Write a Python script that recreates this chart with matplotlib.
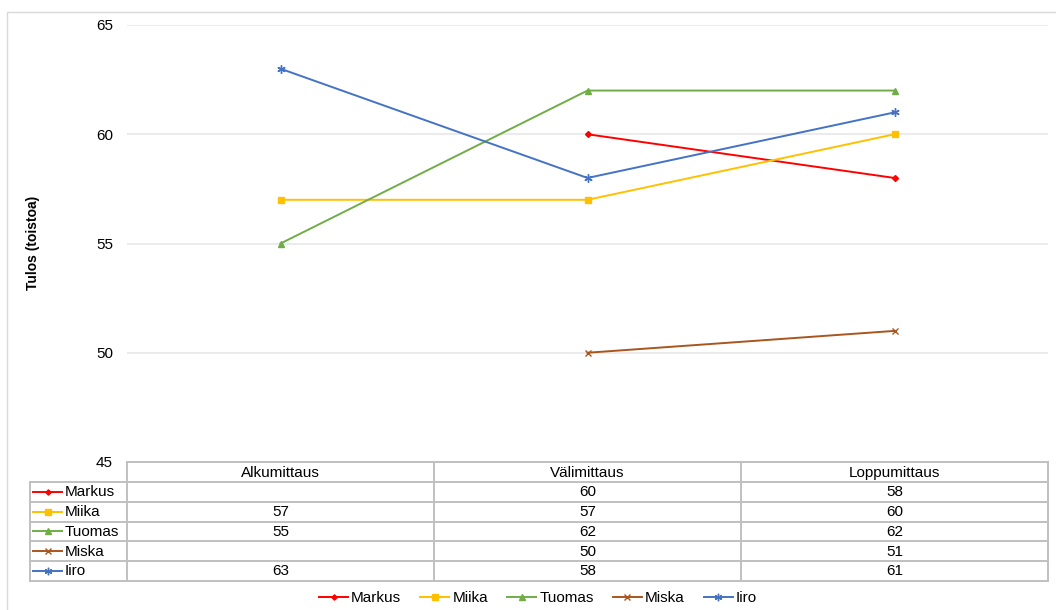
import matplotlib
matplotlib.use("Agg")
import matplotlib.pyplot as plt
from matplotlib.lines import Line2D
from matplotlib.patches import Rectangle
import numpy as np

plt.rcParams['font.family'] = ['Liberation Sans', 'DejaVu Sans']

# Measurement rounds and results (repetitions); None = not measured
rounds = ["Alkumittaus", "Välimittaus", "Loppumittaus"]
names = ["Markus", "Miika", "Tuomas", "Miska", "Iiro"]
markus = [None, 60, 58]
miika = [57, 57, 60]
tuomas = [55, 62, 62]
miska = [None, 50, 51]
iiro = [63, 58, 61]
series = [markus, miika, tuomas, miska, iiro]

colors = ["#FF0000", "#FFC000", "#70AD47", "#A9561E", "#4472C4"]
markers = ["D", "s", "^", "x", (6, 2, 0)]
msizes = [3.0, 4.5, 4.5, 5, 6]

yticks = [45, 50, 55, 60, 65]

W, H = 1056, 610
fig = plt.figure(figsize=(W / 100, H / 100), dpi=100)


def box(x0, y0, x1, y1):
    return [x0 / W, 1 - y1 / H, (x1 - x0) / W, (y1 - y0) / H]


# light chart frame
fig.patches.append(Rectangle((7 / W, -0.1), 1.2, 1.1 - 12 / H,
                             transform=fig.transFigure, fill=False,
                             edgecolor="#d9d9d9", lw=1.0))

FS = 11

# plot area
x_left, x_right = 127, 1048
ax = fig.add_axes(box(x_left, 25, x_right, 462))
x = np.arange(len(rounds))
for vals, c, m, ms, nm in zip(series, colors, markers, msizes, names):
    xs = [xi for xi, v in zip(x, vals) if v is not None]
    ys = [v for v in vals if v is not None]
    ax.plot(xs, ys, color=c, lw=1.4, marker=m, ms=ms, mew=1.0,
            markerfacecolor=c, markeredgecolor=c, label=nm, zorder=3)

ax.set_xlim(-0.5, 2.5)
ax.set_ylim(45, 65)
ax.set_yticks(yticks)
ax.set_yticklabels([str(t) for t in yticks], fontsize=FS)
ax.tick_params(axis="y", length=0, pad=10)
ax.set_xticks([])
for s in ax.spines.values():
    s.set_visible(False)
ax.grid(axis="y", color="#e8e8e8", lw=1.2)
ax.set_axisbelow(True)
fig.text(33 / W, 1 - 243 / H, "Tulos (toistoa)", rotation=90, fontsize=10,
         fontweight="bold", ha="center", va="center")

# data table under the plot
t_left, t_top, t_bottom = 30, 462, 581
upx = 3 / (x_right - x_left)
tx0 = -0.5 - (x_left - t_left) * upx
tax = fig.add_axes(box(t_left, t_top, x_right, t_bottom))
tax.set_xlim(tx0, 2.5)
nrows = len(names) + 1
tax.set_ylim(nrows, 0)
tax.axis("off")
gc = "#c0c0c0"
glw = 1.4
# horizontal lines
tax.plot([-0.5, 2.5], [0, 0], color=gc, lw=glw, clip_on=False)
for r in range(1, nrows + 1):
    tax.plot([tx0, 2.5], [r, r], color=gc, lw=glw, clip_on=False)
# vertical lines
tax.plot([tx0, tx0], [1, nrows], color=gc, lw=glw, clip_on=False)
for xv in [-0.5, 0.5, 1.5, 2.5]:
    tax.plot([xv, xv], [0, nrows], color=gc, lw=glw, clip_on=False)

for i, rnd in enumerate(rounds):
    tax.text(i, 0.55, rnd, ha="center", va="center", fontsize=FS)
for r, (vals, c, m, ms, nm) in enumerate(zip(series, colors, markers, msizes, names), start=1):
    lx0 = tx0 + 3 * upx
    lx1 = tx0 + 32 * upx
    tax.plot([lx0, lx1], [r + 0.5, r + 0.5], color=c, lw=1.4, clip_on=False)
    tax.plot([(lx0 + lx1) / 2], [r + 0.5], color=c, marker=m,
             ms=ms * 0.9, mew=1.0, clip_on=False)
    tax.text(tx0 + 35 * upx, r + 0.52, nm, ha="left", va="center", fontsize=FS)
    for i, v in enumerate(vals):
        if v is not None:
            tax.text(i, r + 0.52, str(v), ha="center", va="center", fontsize=FS)

# legend at the bottom
handles = [Line2D([0], [0], color=c, lw=1.4, marker=m, ms=ms * 0.9, mew=1.0)
           for c, m, ms in zip(colors, markers, msizes)]
fig.legend(handles, names, loc="center", bbox_to_anchor=(538 / W, 1 - 598 / H),
           ncol=5, frameon=False, fontsize=FS, handlelength=1.9,
           handletextpad=0.2, columnspacing=1.25)

fig.savefig("out.png", dpi=100)
